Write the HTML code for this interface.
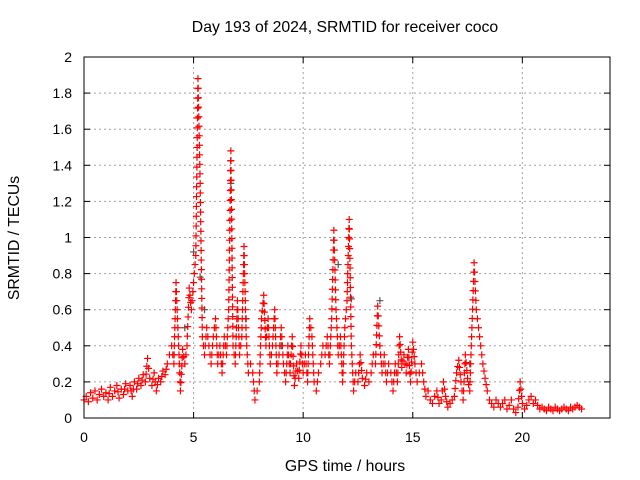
<!DOCTYPE html>
<html><head><meta charset="utf-8"><style>
body{margin:0;background:#fff}
svg{display:block;font-family:"Liberation Sans",sans-serif}
</style></head><body>
<svg id="chart" width="640" height="480">
<text x="345" y="32" text-anchor="middle" font-size="15.8">Day 193 of 2024, SRMTID for receiver coco</text>
<text x="0" y="0" transform="translate(19,238) rotate(-90)" text-anchor="middle" font-size="15.8">SRMTID / TECUs</text>
<text x="345" y="471" text-anchor="middle" font-size="15.8">GPS time / hours</text>
<g id="grid"></g><g id="marks"></g>
<rect x="84" y="57" width="526" height="361" fill="none" stroke="#000" stroke-width="1"/>
<g id="ticks"></g>
</svg>
<script>
const xTicks=[0,5,10,15,20];
const yTicks=[0,0.2,0.4,0.6,0.8,1,1.2,1.4,1.6,1.8,2];
const yTickLabels=["0","0.2","0.4","0.6","0.8","1","1.2","1.4","1.6","1.8","2"];
const redValues=[
0.10,0.12,0.09,0.14,0.11,0.15,0.10,0.13,0.16,0.12,
0.14,0.10,0.17,0.12,0.15,0.18,0.11,0.16,0.13,0.19,
0.15,0.18,0.12,0.20,0.16,0.22,0.18,0.24,0.20,0.33,
0.22,0.18,0.25,0.15,0.22,0.20,0.26,0.24,0.30,0.35,
0.40,0.30,0.75,0.45,0.15,0.38,0.30,0.40,0.72,0.60,
0.75,0.90,1.88,1.30,0.45,0.35,0.50,0.40,0.30,0.45,
0.55,0.30,0.40,0.25,0.45,0.35,0.60,1.48,0.40,0.30,
0.65,0.35,0.45,0.95,0.45,0.25,0.30,0.25,0.10,0.15,
0.20,0.55,0.68,0.40,0.55,0.30,0.40,0.60,0.25,0.35,
0.50,0.30,0.20,0.40,0.25,0.45,0.18,0.30,0.22,0.40,
0.25,0.35,0.20,0.55,0.45,0.20,0.15,0.25,0.30,0.40,
0.35,0.45,0.30,0.55,1.04,0.60,0.35,0.45,0.20,0.50,
0.65,1.10,0.40,0.15,0.25,0.20,0.35,0.22,0.18,0.25,
0.20,0.25,0.35,0.30,0.62,0.40,0.25,0.35,0.20,0.30,
0.25,0.15,0.30,0.20,0.45,0.28,0.35,0.25,0.38,0.20,
0.42,0.30,0.20,0.25,0.30,0.20,0.12,0.15,0.10,0.08,
0.12,0.15,0.08,0.10,0.20,0.12,0.06,0.08,0.10,0.12,
0.25,0.32,0.20,0.10,0.35,0.22,0.15,0.50,0.86,0.60,
0.50,0.40,0.30,0.22,0.15,0.10,0.08,0.06,0.10,0.08,
0.06,0.08,0.10,0.05,0.07,0.10,0.05,0.03,0.06,0.20,
0.08,0.05,0.07,0.10,0.12,0.08,0.10,0.07,0.05,0.06,
0.05,0.04,0.06,0.05,0.04,0.06,0.05,0.04,0.05,0.06,
0.05,0.04,0.06,0.05,0.06,0.07,0.06,0.05];
const redTimes=redValues.map((v,i)=>i*0.1);
const grayTimes=[4.6,5.0,5.3,5.5,6.7,7.4,9.0,11.6,12.2,13.5,17.6];
const grayValues=[0.5,0.92,0.78,0.6,1.3,0.55,0.4,0.85,0.66,0.65,0.3];
const X=t=>84+t*(526/24), Y=v=>418-v*(361/2);
const NS='http://www.w3.org/2000/svg';
const grid=document.getElementById('grid'),marks=document.getElementById('marks'),ticks=document.getElementById('ticks');
function mk(tag,attrs,parent){const e=document.createElementNS(NS,tag);for(const k in attrs)e.setAttribute(k,attrs[k]);parent.appendChild(e);return e;}
yTicks.forEach((v,i)=>{
 if(i>0&&i<yTicks.length-1){const g=mk('line',{x1:84,x2:610,y1:Y(v),y2:Y(v),stroke:'#a0a0a0','stroke-dasharray':'2,3'},grid);
 
 }
 mk('line',{x1:84,x2:90,y1:Y(v),y2:Y(v),stroke:'#000'},ticks);
 mk('line',{x1:604,x2:610,y1:Y(v),y2:Y(v),stroke:'#000'},ticks);
 const t=mk('text',{x:72,y:Y(v)+5,'text-anchor':'end','font-size':'14'},ticks);t.textContent=yTickLabels[i];
 
 
});
xTicks.forEach(v=>{
 if(v>0){const g=mk('line',{x1:X(v),x2:X(v),y1:57,y2:418,stroke:'#a0a0a0','stroke-dasharray':'2,3'},grid);
 
 }
 mk('line',{x1:X(v),x2:X(v),y1:412,y2:418,stroke:'#000'},ticks);
 mk('line',{x1:X(v),x2:X(v),y1:57,y2:63,stroke:'#000'},ticks);
 const t=mk('text',{x:X(v),y:442,'text-anchor':'middle','font-size':'14'},ticks);t.textContent=String(v);
 
 
});
function cross(x,y,c,p){mk('path',{d:`M${x-3.5},${y}h7M${x},${y-3.5}v7`,stroke:c,'stroke-width':1.2,fill:'none'},p);}
const gg=mk('g',{},marks);


grayTimes.forEach((t,i)=>cross(X(t),Y(grayValues[i]),'#555',gg));
const rg=mk('g',{},marks);


for(let i=0;i<redValues.length;i++){
 const x=X(redTimes[i]),y=Y(redValues[i]);cross(x,y,'#f00',rg);
 if(i>0){const x0=X(redTimes[i-1]),y0=Y(redValues[i-1]);const n=Math.max(1,Math.ceil(Math.abs(y-y0)/10));
  for(let k=1;k<n;k++){cross(x0+(x-x0)*k/n,y0+(y-y0)*k/n,'#f00',rg);}}
}
</script>
</body></html>
